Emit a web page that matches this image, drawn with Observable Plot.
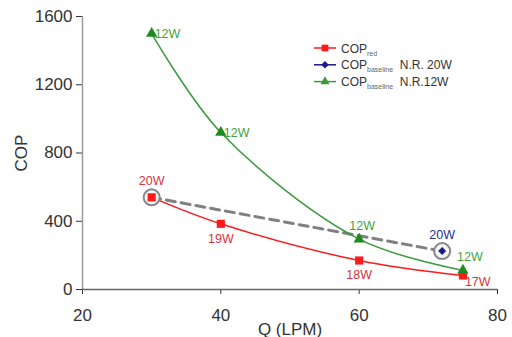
<!DOCTYPE html>
<html><head><meta charset="utf-8">
<script src="https://cdn.jsdelivr.net/npm/d3@7"></script>
<script src="https://cdn.jsdelivr.net/npm/@observablehq/plot@0.6"></script>
<style>
body{margin:0;background:#fff;font-family:"Liberation Sans",Arial,sans-serif}
#wrap{position:relative;width:512px;height:337px}
</style></head><body><div id="wrap"></div>
<script>
const xTicks = [20, 40, 60, 80];
const yTicks = [0, 400, 800, 1200, 1600];
const redQ = [30, 40, 60, 75];
const redCOP = [540, 385, 170, 82];
const redLabels = ["20W", "19W", "18W", "17W"];
const greenQ = [30, 40, 60, 75];
const greenCOP = [1500, 920, 295, 112];
const greenLabels = ["12W", "12W", "12W", "12W"];
const blueQ = [72];
const blueCOP = [225];
const blueLabels = ["20W"];
const dashQ = [30, 72];
const dashCOP = [540, 225];

const red = redQ.map((q,i)=>({q, c:redCOP[i], l:redLabels[i]}));
const green = greenQ.map((q,i)=>({q, c:greenCOP[i], l:greenLabels[i]}));
const blue = blueQ.map((q,i)=>({q, c:blueCOP[i], l:blueLabels[i]}));
const dash = dashQ.map((q,i)=>({q, c:dashCOP[i]}));

const RED="#ff1a1a", GREEN="#3a9a3a", BLUE="#1a1a8c", GRAY="#9a9a9a";
const RTXT="#d9343a", GTXT="#3fa33f", BTXT="#2c2c8c";
const FS = 12.5;

const plot = Plot.plot({
  width: 512, height: 337,
  marginLeft: 82, marginTop: 16, marginBottom: 48, marginRight: 15,
  style: {fontFamily: '"Liberation Sans", Arial, sans-serif', fontSize: "17px", color: "#333"},
  x: {domain: [20, 80], ticks: xTicks, tickFormat: "d", tickSize: 5, tickPadding: 14, label: "Q (LPM)", labelAnchor: "center", labelArrow: "none", labelOffset: 45},
  y: {domain: [0, 1600], ticks: yTicks, tickFormat: "d", tickSize: 6, tickPadding: 4, label: "COP", labelAnchor: "center", labelArrow: "none", labelOffset: 68},
  marks: [
    Plot.ruleX([20], {stroke: GRAY, strokeWidth: 1.5}),
    Plot.ruleY([0], {stroke: "#666", strokeWidth: 1.5}),
    Plot.line(dash, {x: "q", y: "c", stroke: "#808080", strokeWidth: 3, strokeDasharray: "9,6"}),
    Plot.line(green, {x: "q", y: "c", stroke: GREEN, strokeWidth: 1.5, curve: "catmull-rom"}),
    Plot.line(red, {x: "q", y: "c", stroke: RED, strokeWidth: 1.5, curve: "catmull-rom"}),
    Plot.dot([red[0], blue[0]], {x: "q", y: "c", r: 8, stroke: "#888", strokeWidth: 2, fill: "#f4f4f4"}),
    Plot.dot(red, {x: "q", y: "c", symbol: "square", r: 4.6, fill: RED}),
    Plot.dot(green, {x: "q", y: "c", symbol: "triangle", r: 4.2, fill: "#1f8a1f"}),
    Plot.dot(blue, {x: "q", y: "c", symbol: "diamond2", r: 3.6, fill: BLUE}),
    Plot.text([red[0]], {x: "q", y: "c", text: "l", dy: -16, fill: RTXT, fontSize: FS}),
    Plot.text(red.slice(1, 3), {x: "q", y: "c", text: "l", dy: 15, fill: RTXT, fontSize: FS}),
    Plot.text([red[3]], {x: "q", y: "c", text: "l", dx: 2, dy: 6, textAnchor: "start", fill: RTXT, fontSize: FS}),
    Plot.text(green.slice(0, 2), {x: "q", y: "c", text: "l", dx: 3, textAnchor: "start", fill: GTXT, fontSize: FS}),
    Plot.text([green[2]], {x: "q", y: "c", text: "l", dy: -13, dx: 3, fill: GTXT, fontSize: FS}),
    Plot.text([green[3]], {x: "q", y: "c", text: "l", dy: -13, dx: 7, fill: GTXT, fontSize: FS}),
    Plot.text(blue, {x: "q", y: "c", text: "l", dy: -16, fill: BTXT, fontSize: FS})
  ]
});
document.getElementById("wrap").appendChild(plot);

// legend
const svg = d3.select(plot);
const lg = svg.append("g").attr("font-family", '"Liberation Sans", Arial, sans-serif').attr("font-size", 12).attr("fill", "#333").attr("text-anchor", "start");
const items = [
  {c: RED, sym: "square", main: "COP", sub: "red", rest: ""},
  {c: BLUE, sym: "diamond", main: "COP", sub: "baseline", rest: "  N.R. 20W"},
  {c: GREEN, sym: "triangle", main: "COP", sub: "baseline", rest: "  N.R.12W"}
];
items.forEach((it, i) => {
  const y = 48 + i * 16.8;
  const g = lg.append("g").attr("transform", `translate(0,${y})`);
  g.append("line").attr("x1", 314).attr("x2", 336).attr("y1", 0).attr("y2", 0).attr("stroke", it.c).attr("stroke-width", 1.5);
  const s = it.sym === "square" ? d3.symbolSquare : it.sym === "diamond" ? d3.symbolDiamond2 : d3.symbolTriangle;
  g.append("path").attr("transform", "translate(325,0)").attr("d", d3.symbol(s, it.sym === "square" ? 45 : 36)).attr("fill", it.c);
  const t = g.append("text").attr("x", 341).attr("y", 4.5).attr("text-anchor", "start").style("white-space", "pre");
  t.append("tspan").text(it.main);
  t.append("tspan").attr("font-size", 7).attr("fill", "#666").attr("dy", 3).text(it.sub);
  t.append("tspan").attr("dy", -3).text(it.rest);
});
</script></body></html>
